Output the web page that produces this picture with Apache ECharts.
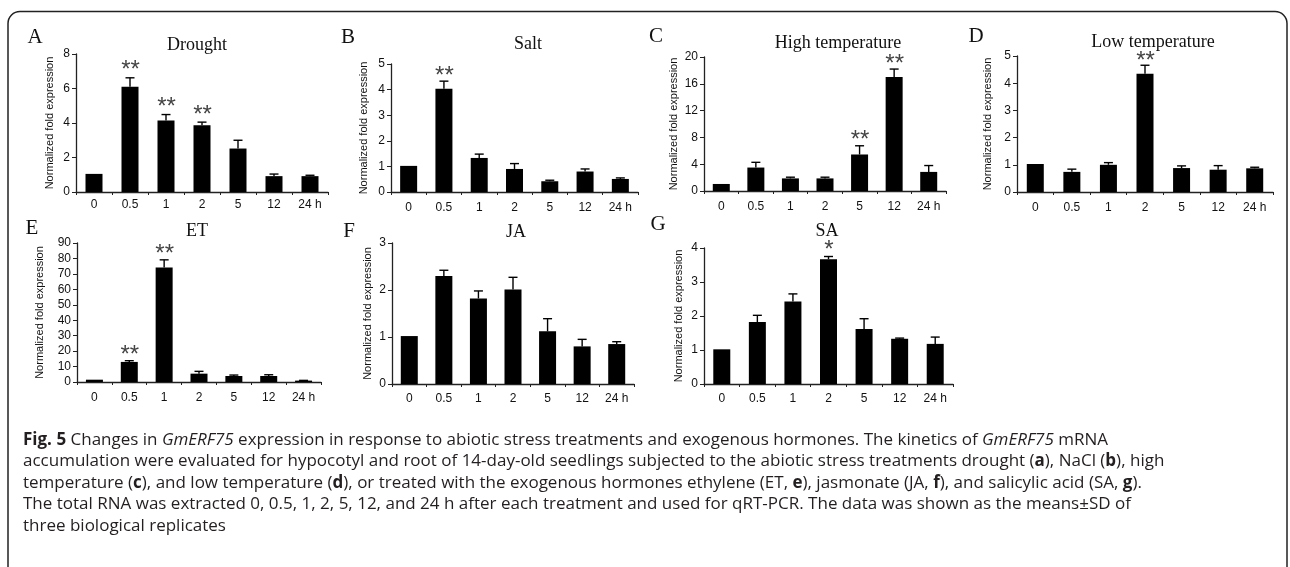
<!DOCTYPE html>
<html>
<head>
<meta charset="utf-8">
<script src="https://cdn.jsdelivr.net/npm/echarts@6/dist/echarts.min.js"></script>
<style>
html,body{margin:0;padding:0;background:#fff;}
#chart{width:1290px;height:567px;}
</style>
</head>
<body>
<div id="chart"></div>
<script>
// ---------- DATA ----------
const categories = ['0', '0.5', '1', '2', '5', '12', '24 h'];

const droughtMean = [1.05, 6.1, 4.15, 3.87, 2.52, 0.92, 0.92];
const droughtSD   = [0, 0.52, 0.34, 0.18, 0.48, 0.12, 0.05];
const droughtSig  = ['', '**', '**', '**', '', '', ''];

const saltMean = [1.02, 4.03, 1.33, 0.9, 0.42, 0.8, 0.51];
const saltSD   = [0, 0.3, 0.15, 0.21, 0.04, 0.1, 0.04];
const saltSig  = ['', '**', '', '', '', '', ''];

const highTMean = [1.05, 3.5, 1.88, 1.88, 5.45, 17.0, 2.85];
const highTSD   = [0, 0.78, 0.18, 0.18, 1.3, 1.2, 0.95];
const highTSig  = ['', '', '', '', '**', '**', ''];

const lowTMean = [1.03, 0.74, 1.0, 4.35, 0.88, 0.82, 0.87];
const lowTSD   = [0, 0.1, 0.08, 0.31, 0.08, 0.15, 0.04];
const lowTSig  = ['', '', '', '**', '', '', ''];

const etMean = [1.5, 13.0, 74.1, 5.4, 3.9, 3.9, 0.9];
const etSD   = [0, 0.8, 5.0, 1.5, 0.6, 0.8, 0.15];
const etSig  = ['', '**', '**', '', '', '', ''];

const jaMean = [1.02, 2.3, 1.82, 2.01, 1.12, 0.8, 0.85];
const jaSD   = [0, 0.12, 0.16, 0.26, 0.27, 0.15, 0.05];
const jaSig  = ['', '', '', '', '', '', ''];

const saMean = [1.02, 1.82, 2.43, 3.67, 1.62, 1.33, 1.18];
const saSD   = [0, 0.2, 0.22, 0.08, 0.3, 0.02, 0.2];
const saSig  = ['', '', '', '*', '', '', ''];

const panelLetters = ['A', 'B', 'C', 'D', 'E', 'F', 'G'];
const panelTitles  = ['Drought', 'Salt', 'High temperature', 'Low temperature', 'ET', 'JA', 'SA'];
const yMax      = [8, 5, 20, 5, 90, 3, 4];
const yInterval = [2, 1, 4, 1, 10, 1, 1];
const yAxisName = 'Normalized fold expression';

const captionLines = [
  '{b|Fig. 5} Changes in {i|GmERF75} expression in response to abiotic stress treatments and exogenous hormones. The kinetics of {i|GmERF75} mRNA',
  'accumulation were evaluated for hypocotyl and root of 14-day-old seedlings subjected to the abiotic stress treatments drought ({b|a}), NaCl ({b|b}), high',
  'temperature ({b|c}), and low temperature ({b|d}), or treated with the exogenous hormones ethylene (ET, {b|e}), jasmonate (JA, {b|f}), and salicylic acid (SA, {b|g}).',
  'The total RNA was extracted 0, 0.5, 1, 2, 5, 12, and 24 h after each treatment and used for qRT-PCR. The data was shown as the means\u00b1SD of',
  'three biological replicates'
];

const means = [droughtMean, saltMean, highTMean, lowTMean, etMean, jaMean, saMean];
const sds   = [droughtSD, saltSD, highTSD, lowTSD, etSD, jaSD, saSD];
const sigs  = [droughtSig, saltSig, highTSig, lowTSig, etSig, jaSig, saSig];

// ---------- LAYOUT ----------
const grids = [
  {left: 76,   top: 54,  width: 252, height: 138},
  {left: 391,  top: 64,  width: 247, height: 128},
  {left: 704,  top: 57,  width: 242, height: 134},
  {left: 1017, top: 56,  width: 256, height: 136},
  {left: 77,   top: 243, width: 244, height: 139},
  {left: 392,  top: 243, width: 242, height: 141},
  {left: 704,  top: 248, width: 249, height: 136}
];
const nameGaps = [21, 22, 25, 24, 32, 19, 20];
const xLabelMargin = [7, 10, 10, 10, 10, 9, 9];
const letterPos = [[35, 37], [348, 37], [656, 36], [976, 36], [32, 228], [349, 231], [658, 224]];
const titlePos  = [[197, 45], [528, 44], [838, 43], [1153, 42], [197, 231], [516, 232], [827, 231]];
const starGap = [12, 10, 10, 9, 10, 10, 11];

const AX = '#222';
const chart = echarts.init(document.getElementById('chart'), null, {renderer: 'canvas'});

const xAxes = [], yAxes = [], series = [], graphics = [];
grids.forEach((g, k) => {
  xAxes.push({
    type: 'category', gridIndex: k, data: categories, boundaryGap: true,
    axisLine: {show: true, lineStyle: {color: AX, width: 1.3}},
    axisTick: {show: true, interval: 0, length: 3, lineStyle: {color: AX, width: 1}},
    axisLabel: {interval: 0, margin: xLabelMargin[k], color: '#111', fontSize: 12, fontFamily: 'Liberation Sans, Arial, sans-serif'},
    splitLine: {show: false}
  });
  yAxes.push({
    type: 'value', gridIndex: k, min: 0, max: yMax[k], interval: yInterval[k],
    name: yAxisName, nameLocation: 'middle', nameGap: nameGaps[k], nameRotate: 90,
    nameTextStyle: {fontSize: 11, color: '#111', fontFamily: 'Liberation Sans, Arial, sans-serif'},
    axisLine: {show: true, lineStyle: {color: AX, width: 1.3}},
    axisTick: {show: true, length: 4, lineStyle: {color: AX, width: 1}},
    axisLabel: {margin: 6, color: '#111', fontSize: 12, fontFamily: 'Liberation Sans, Arial, sans-serif'},
    splitLine: {show: false}
  });
  series.push({
    type: 'bar', xAxisIndex: k, yAxisIndex: k, data: means[k], barWidth: 17,
    itemStyle: {color: '#000'}, silent: true, animation: false
  });
  const mk = means[k], sk = sds[k], gk = sigs[k], gap = starGap[k];
  series.push({
    type: 'custom', xAxisIndex: k, yAxisIndex: k, animation: false, silent: true,
    data: mk.map((m, i) => [i, m, sk[i]]),
    renderItem: function (params, api) {
      const i = api.value(0), m = api.value(1), s = api.value(2);
      const p0 = api.coord([i, m]);
      const p1 = api.coord([i, m + s]);
      const children = [];
      if (s > 0) {
        children.push({type: 'line', shape: {x1: p0[0], y1: p0[1], x2: p1[0], y2: p1[1]}, style: {stroke: '#000', lineWidth: 1.4}});
        children.push({type: 'line', shape: {x1: p1[0] - 4.5, y1: p1[1], x2: p1[0] + 4.5, y2: p1[1]}, style: {stroke: '#000', lineWidth: 1.4}});
      }
      const sig = gk[params.dataIndex];
      if (sig) {
        children.push({type: 'text', style: {text: sig, x: p1[0] + 0.5, y: p1[1] - gap + 5, align: 'center', verticalAlign: 'middle',
          fontSize: 24, fontFamily: 'Liberation Sans, Arial, sans-serif', fill: '#444'}});
      }
      return {type: 'group', children: children};
    }
  });
  graphics.push({type: 'text', x: letterPos[k][0], y: letterPos[k][1],
    style: {text: panelLetters[k], fontSize: 21, fontFamily: 'Liberation Serif, Times New Roman, serif', fill: '#111', align: 'center', verticalAlign: 'middle'}});
  graphics.push({type: 'text', x: titlePos[k][0], y: titlePos[k][1],
    style: {text: panelTitles[k], fontSize: 18, fontFamily: 'Liberation Serif, Times New Roman, serif', fill: '#111', align: 'center', verticalAlign: 'middle'}});
});

// frame
graphics.push({type: 'rect', shape: {x: 8, y: 11.5, width: 1279, height: 620, r: 12},
  style: {fill: 'none', stroke: '#222', lineWidth: 1.5}, z: -1});

// caption
const capY = [440, 461.5, 483, 504.5, 526];
captionLines.forEach((t, j) => {
  graphics.push({type: 'text', x: 23, y: capY[j],
    style: {text: t, fontSize: 17, fontFamily: 'Open Sans, sans-serif', fill: '#231f20', verticalAlign: 'middle',
      rich: {b: {fontWeight: 'bold', fontSize: 17, fontFamily: 'Open Sans, sans-serif', fill: '#231f20'},
             i: {fontStyle: 'italic', fontSize: 17, fontFamily: 'Open Sans, sans-serif', fill: '#231f20'}}}});
});

chart.setOption({
  backgroundColor: '#fff',
  animation: false,
  grid: grids,
  xAxis: xAxes,
  yAxis: yAxes,
  series: series,
  graphic: graphics
});
</script>
</body>
</html>
